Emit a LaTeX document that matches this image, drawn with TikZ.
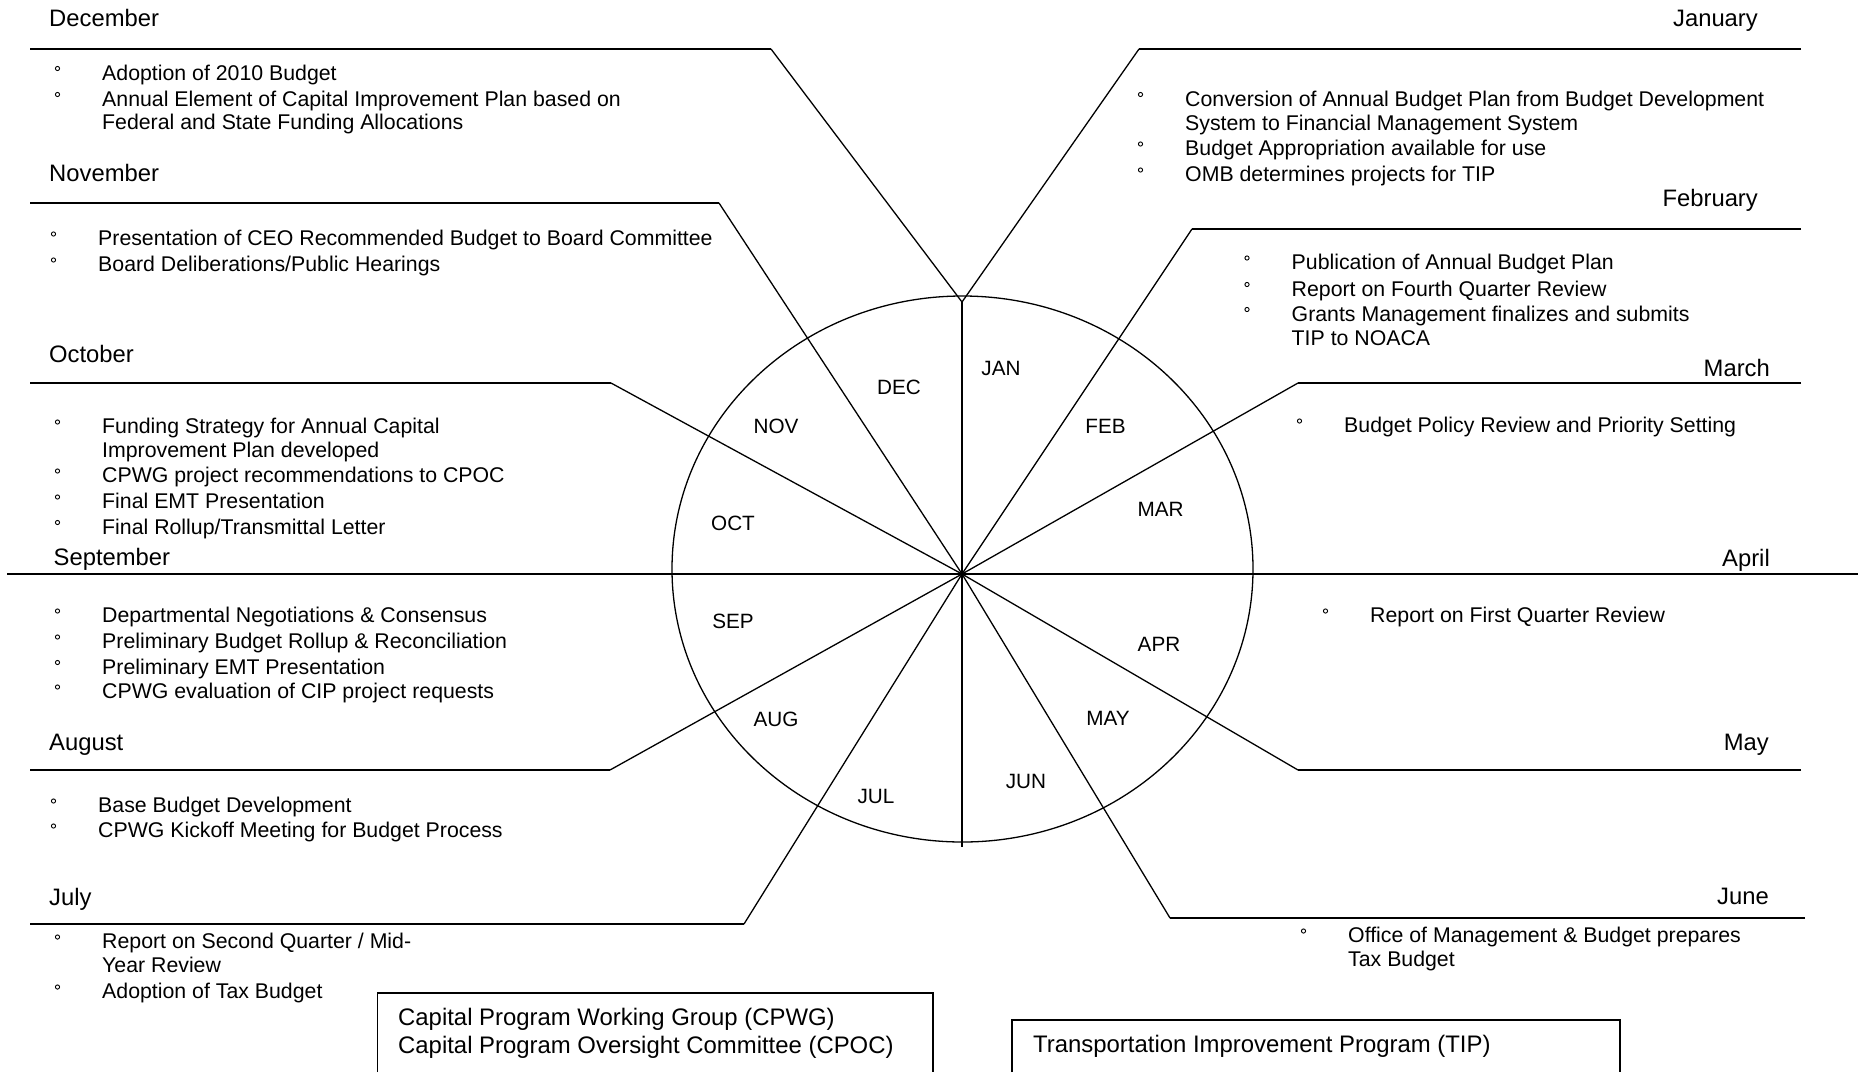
\documentclass[tikz,border=0pt]{standalone}
\usepackage{fontspec}
\setmainfont{Liberation Sans}
\newcommand\bitem[4]{%
  \node[itext] (#1) at (#2,#3) {#4};
  \draw[bul] ([shift={(-44.5pt,11.5pt)}]#1.base west) circle[radius=2.1pt];}
\newcommand\citem[4]{\node[itext] (#1) at (#2,#3) {#4};}
\begin{document}
\begin{tikzpicture}[x=1pt,y=-1pt,
  hline/.style={line width=1.8pt},
  spoke/.style={line width=1.3pt},
  mtitle/.style={inner sep=0pt, font=\fontsize{23.8}{26}\selectfont},
  itext/.style={inner sep=0pt, anchor=base west, font=\fontsize{21.3}{24}\selectfont},
  wlabel/.style={inner sep=0pt, anchor=base, font=\fontsize{20.7}{22}\selectfont},
  bul/.style={line width=0.9pt},
  boxtext/.style={inner sep=0pt, anchor=base west, font=\fontsize{23.9}{26}\selectfont}]
\path[use as bounding box, fill=white] (0,0) rectangle (1860,1072);

% centre and junction
\coordinate (C) at (962,574);
\coordinate (Y) at (962,302);

% ellipse
\draw[spoke] (962.5,569) ellipse [x radius=290.5pt, y radius=273pt];

% vertical and horizontal axes
\coordinate (vtop) at (962,302);
\coordinate (vbot) at (962,847);
\draw[spoke] (vtop) -- (vbot);
\coordinate (hl) at (7,574);
\coordinate (hr) at (1858,574);
\draw[hline] (hl) -- (C);
\draw[hline] (C) -- (hr);

% leader lines: horizontal part + diagonal to centre
\coordinate (decA) at (30,49);   \coordinate (decB) at (771,49);
\coordinate (janA) at (1801,49); \coordinate (janB) at (1139,49);
\coordinate (novA) at (30,203);  \coordinate (novB) at (719,203);
\coordinate (febA) at (1801,229);\coordinate (febB) at (1192,229);
\coordinate (octA) at (30,383);  \coordinate (octB) at (611,383);
\coordinate (marA) at (1801,383);\coordinate (marB) at (1298,383);
\coordinate (augA) at (30,770);  \coordinate (augB) at (610,770);
\coordinate (mayA) at (1801,770);\coordinate (mayB) at (1298,770);
\coordinate (julA) at (30,924);  \coordinate (julB) at (744,924);
\coordinate (junA) at (1805,918);\coordinate (junB) at (1170,918);

\draw[hline] (decA) -- (decB); \draw[spoke] (decB) -- (Y);
\draw[hline] (janA) -- (janB); \draw[spoke] (janB) -- (Y);
\draw[hline] (novA) -- (novB); \draw[spoke] (novB) -- (C);
\draw[hline] (febA) -- (febB); \draw[spoke] (febB) -- (C);
\draw[hline] (octA) -- (octB); \draw[spoke] (octB) -- (C);
\draw[hline] (marA) -- (marB); \draw[spoke] (marB) -- (C);
\draw[hline] (augA) -- (augB); \draw[spoke] (augB) -- (C);
\draw[hline] (mayA) -- (mayB); \draw[spoke] (mayB) -- (C);
\draw[hline] (julA) -- (julB); \draw[spoke] (julB) -- (C);
\draw[hline] (junA) -- (junB); \draw[spoke] (junB) -- (C);

% wedge labels
\node[wlabel] (wjan) at (1001,375) {JAN};
\node[wlabel] (wfeb) at (1105.5,433) {FEB};
\node[wlabel] (wmar) at (1160.5,516) {MAR};
\node[wlabel] (wapr) at (1159,651.5) {APR};
\node[wlabel] (wmay) at (1108,725) {MAY};
\node[wlabel] (wjun) at (1026,788.5) {JUN};
\node[wlabel] (wjul) at (876,803) {JUL};
\node[wlabel] (waug) at (776,726) {AUG};
\node[wlabel] (wsep) at (733,628) {SEP};
\node[wlabel] (woct) at (733,530.5) {OCT};
\node[wlabel] (wnov) at (776,433) {NOV};
\node[wlabel] (wdec) at (899,394) {DEC};

% month titles
\node[mtitle, anchor=base west] (tdec) at (49,26) {December};
\node[mtitle, anchor=base west] (tnov) at (49,181) {November};
\node[mtitle, anchor=base west] (toct) at (49,362) {October};
\node[mtitle, anchor=base west] (tsep) at (53.5,565) {September};
\node[mtitle, anchor=base west] (taug) at (49,750) {August};
\node[mtitle, anchor=base west] (tjul) at (49,905) {July};
\node[mtitle, anchor=base east] (tjan) at (1758,26) {January};
\node[mtitle, anchor=base east] (tfeb) at (1758,206.5) {February};
\node[mtitle, anchor=base east] (tmar) at (1770,376.5) {March};
\node[mtitle, anchor=base east] (tapr) at (1770,566.5) {April};
\node[mtitle, anchor=base east] (tmay) at (1769,750) {May};
\node[mtitle, anchor=base east] (tjun) at (1769,904) {June};

% December items
\bitem{d1}{102}{80}{Adoption of 2010 Budget}
\bitem{d2}{102}{106}{Annual Element of Capital Improvement Plan based on}
\citem{d3}{102}{129.5}{Federal and State Funding Allocations}
% November items
\bitem{n1}{98}{245.5}{Presentation of CEO Recommended Budget to Board Committee}
\bitem{n2}{98}{271.5}{Board Deliberations/Public Hearings}
% October items
\bitem{o1}{102}{433.5}{Funding Strategy for Annual Capital}
\citem{o2}{102}{457}{Improvement Plan developed}
\bitem{o3}{102}{482.5}{CPWG project recommendations to CPOC}
\bitem{o4}{102}{508.5}{Final EMT Presentation}
\bitem{o5}{102}{534}{Final Rollup/Transmittal Letter}
% September items
\bitem{s1}{102}{622.5}{Departmental Negotiations \& Consensus}
\bitem{s2}{102}{648.5}{Preliminary Budget Rollup \& Reconciliation}
\bitem{s3}{102}{674}{Preliminary EMT Presentation}
\bitem{s4}{102}{698.5}{CPWG evaluation of CIP project requests}
% August items
\bitem{a1}{98}{812.5}{Base Budget Development}
\bitem{a2}{98}{837.5}{CPWG Kickoff Meeting for Budget Process}
% July items
\bitem{j1}{102}{948.5}{Report on Second Quarter / Mid-}
\citem{j2}{102}{972.5}{Year Review}
\bitem{j3}{102}{998.5}{Adoption of Tax Budget}
% January items
\bitem{ja1}{1185}{106}{Conversion of Annual Budget Plan from Budget Development}
\citem{ja2}{1185}{130}{System to Financial Management System}
\bitem{ja3}{1185}{155.5}{Budget Appropriation available for use}
\bitem{ja4}{1185}{181.5}{OMB determines projects for TIP}
% February items
\bitem{f1}{1291.5}{269.5}{Publication of Annual Budget Plan}
\bitem{f2}{1291.5}{296}{Report on Fourth Quarter Review}
\bitem{f3}{1291.5}{321}{Grants Management finalizes and submits}
\citem{f4}{1291.5}{345}{TIP to NOACA}
% March
\bitem{m1}{1344}{432.5}{Budget Policy Review and Priority Setting}
% April
\bitem{ap1}{1370}{622.5}{Report on First Quarter Review}
% June
\bitem{ju1}{1348}{942.5}{Office of Management \& Budget prepares}
\citem{ju2}{1348}{966.5}{Tax Budget}

% legend boxes (cut by the lower edge)
\coordinate (b1a) at (377.5,1072); \coordinate (b1b) at (377.5,993);
\coordinate (b1c) at (933,993);    \coordinate (b1d) at (933,1072);
\draw[hline] (b1a) -- (b1b) -- (b1c) -- (b1d);
\node[boxtext] (bx1a) at (398,1025) {Capital Program Working Group (CPWG)};
\node[boxtext] (bx1b) at (398,1053.5) {Capital Program Oversight Committee (CPOC)};
\coordinate (b2a) at (1012,1072); \coordinate (b2b) at (1012,1020);
\coordinate (b2c) at (1620,1020); \coordinate (b2d) at (1620,1072);
\draw[hline] (b2a) -- (b2b) -- (b2c) -- (b2d);
\node[boxtext] (bx2) at (1033,1052.5) {Transportation Improvement Program (TIP)};
\end{tikzpicture}
\end{document}
